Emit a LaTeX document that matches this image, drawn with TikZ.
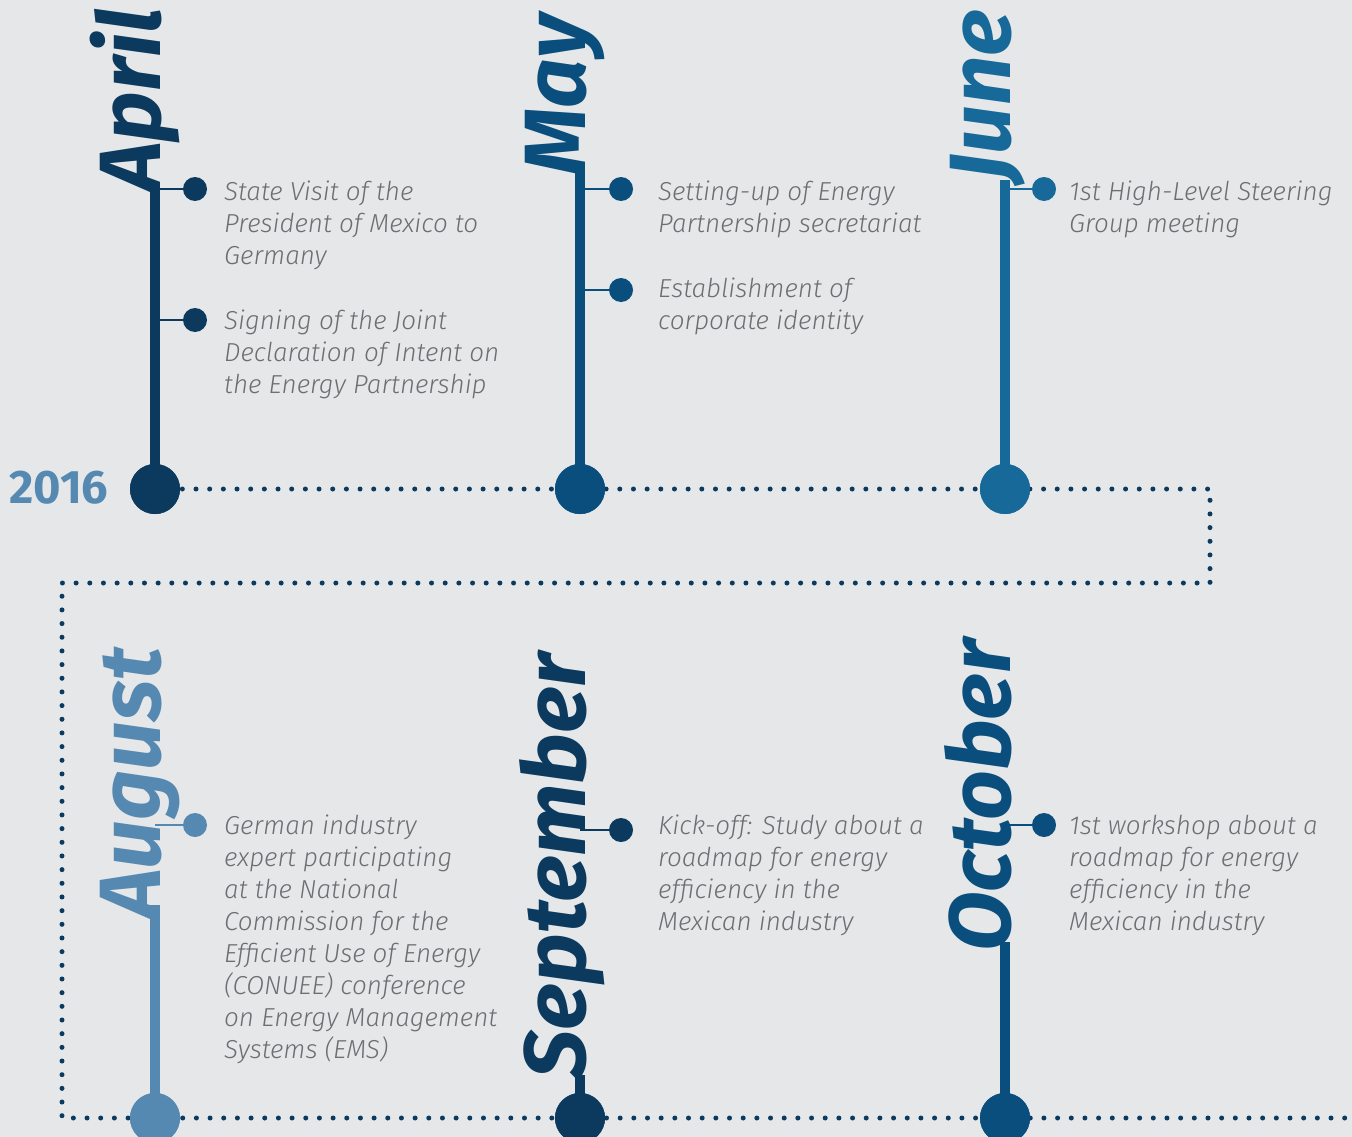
\documentclass[tikz,border=0pt]{standalone}
\usepackage{fontspec}
\setmainfont{Fira Sans}
\newfontfamily\monthfont{Fira Sans}
\newfontfamily\evfont{Fira Sans Light Italic}
\definecolor{bgc}{HTML}{E6E7E8}
\definecolor{navy}{HTML}{0B3A5E}
\definecolor{mid}{HTML}{0A4E7D}
\definecolor{june}{HTML}{17699A}
\definecolor{aug}{HTML}{5589B1}
\definecolor{txt}{HTML}{6D6E71}
\tikzset{
  month/.style={rotate=90, anchor=base west, inner sep=0pt, text=#1,
    font=\monthfont\bfseries\itshape\fontsize{87}{87}\selectfont},
  stem/.style={draw=#1, line width=10pt},
  bigdot/.style={circle, fill=#1, minimum size=50pt, inner sep=0pt},
  smalldot/.style={circle, fill=#1, minimum size=24pt, inner sep=0pt},
  branch/.style={draw=#1, line width=2pt},
  event/.style={anchor=north west, yshift=22.4pt, inner sep=0pt, align=left, text=txt,
    font=\evfont\fontsize{26}{32}\selectfont, execute at begin node=\strut},
  dotline/.style={draw=navy, line width=5pt, line cap=round, dash pattern=on 0pt off 13.67pt},
}
\begin{document}
\begin{tikzpicture}[x=1pt,y=-1pt]
\useasboundingbox (0,0) rectangle (1352,1137);
\fill[bgc] (0,0) rectangle (1352,1137);
\clip (0,0) rectangle (1352,1137);

% circles (positions)
\node[bigdot=navy] (aprC) at (155,489) {};
\node[bigdot=mid]  (mayC) at (580,489) {};
\node[bigdot=june] (junC) at (1005,489) {};
\node[bigdot=aug]  (augC) at (155,1118) {};
\node[bigdot=navy] (sepC) at (580,1118) {};
\node[bigdot=mid]  (octC) at (1005,1118) {};

% dotted path
\coordinate (r1) at (1210,489);
\coordinate (r2) at (1210,583);
\coordinate (l1) at (62,583);
\coordinate (l2) at (62,1118);
\coordinate (endR) at (1360,1118);
\draw[dotline] (aprC.center) -- (r1) -- (r2) -- (l1) -- (l2) -- (endR);

% stems tops
\coordinate (aprT) at (155,188);
\coordinate (mayT) at (580,172);
\coordinate (junT) at (1005,180);
\coordinate (augT) at (155,905);
\coordinate (sepT) at (580,1075);
\coordinate (octT) at (1005,942);

\draw[stem=navy] (aprT) -- (aprC.center);
\draw[stem=mid]  (mayT) -- (mayC.center);
\draw[stem=june] (junT) -- (junC.center);
\draw[stem=aug]  (augT) -- (augC.center);
\draw[stem=navy] (sepT) -- (sepC.center);
\draw[stem=mid]  (octT) -- (octC.center);

% redraw circles on top
\node[bigdot=navy] at (aprC) {};
\node[bigdot=mid]  at (mayC) {};
\node[bigdot=june] at (junC) {};
\node[bigdot=aug]  at (augC) {};
\node[bigdot=navy] at (sepC) {};
\node[bigdot=mid]  at (octC) {};

% month labels
\node[month=navy] (aprL) at (160,193) {April};
\node[month=mid]  (mayL) at (585,176) {May};
\node[month=june] (junL) at (1010,182) {June};
\node[month=aug]  (augL) at (160,920) {August};
\node[month=navy] (sepL) at (585,1080) {September};
\node[month=mid]  (octL) at (1010,952) {October};

% year
\node[anchor=base west, inner sep=0pt, text=aug, font=\bfseries\fontsize{47}{47}\selectfont] (year) at (9,503) {2016};

% event dots
\node[smalldot=navy] (a1) at (195,189) {};
\node[smalldot=navy] (a2) at (195,320) {};
\node[smalldot=mid]  (m1) at (621,189) {};
\node[smalldot=mid]  (m2) at (621,290) {};
\node[smalldot=june] (j1) at (1044,189) {};
\node[smalldot=aug]  (g1) at (195,825) {};
\node[smalldot=navy] (s1) at (621,830) {};
\node[smalldot=mid]  (o1) at (1044,825) {};

\draw[branch=navy] (a1) -- (a1 -| aprC);
\draw[branch=navy] (a2) -- (a2 -| aprC);
\draw[branch=mid]  (m1) -- (m1 -| mayC);
\draw[branch=mid]  (m2) -- (m2 -| mayC);
\draw[branch=june] (j1) -- (j1 -| junC);
\draw[branch=aug]  (g1) -- (g1 -| augC);
\draw[branch=navy] (s1) -- (s1 -| sepC);
\draw[branch=mid]  (o1) -- (o1 -| octC);

% event texts (positions are first-line baselines)
\node[event] (ta1) at (224,203) {State Visit of the\\President of Mexico to\\Germany};
\node[event] (ta2) at (224,332) {Signing of the Joint\\Declaration of Intent on\\the Energy Partnership};
\node[event] (tm1) at (658,203) {Setting-up of Energy\\Partnership secretariat};
\node[event] (tm2) at (658,300) {Establishment of\\corporate identity};
\node[event] (tj1) at (1069,203) {1st High-Level Steering\\Group meeting};
\node[event] (tg1) at (224,837) {German industry\\expert participating\\at the National\\Commission for the\\Efficient Use of Energy\\(CONUEE) conference\\on Energy Management\\Systems (EMS)};
\node[event] (ts1) at (658,837) {Kick-off: Study about a\\roadmap for energy\\efficiency in the\\Mexican industry};
\node[event] (to1) at (1069,837) {1st workshop about a\\roadmap for energy\\efficiency in the\\Mexican industry};
\end{tikzpicture}
\end{document}
